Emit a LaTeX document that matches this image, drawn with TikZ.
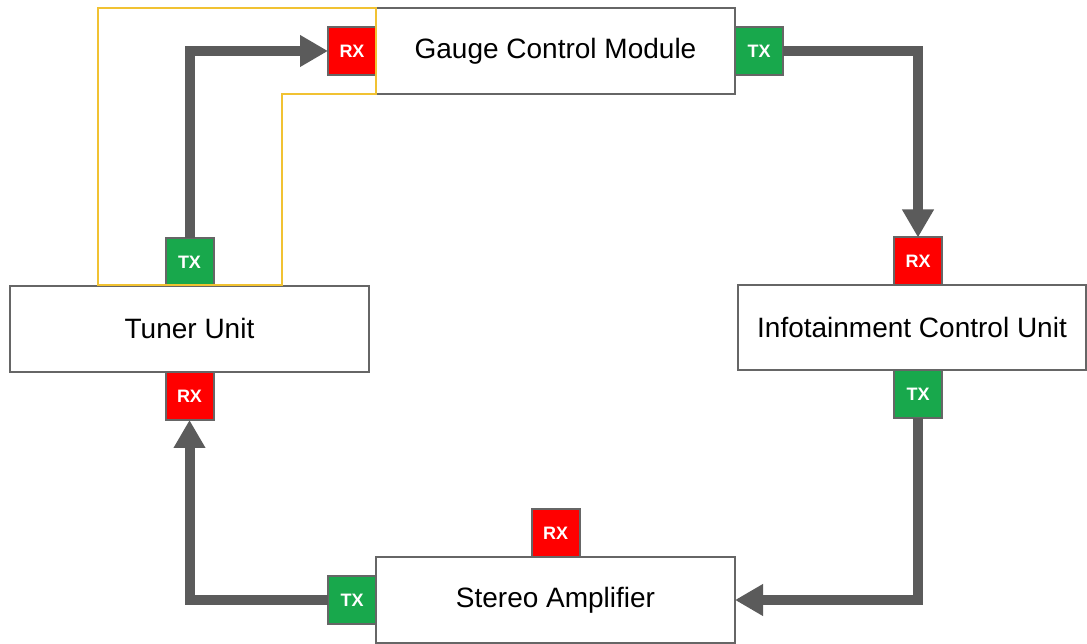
\documentclass[tikz,border=0pt]{standalone}
\usepackage{fontspec}
\setmainfont{Liberation Sans}
\usetikzlibrary{positioning,arrows.meta}
\definecolor{boxgray}{HTML}{666666}
\definecolor{linegray}{HTML}{5B5B5B}
\definecolor{rxred}{HTML}{FF0000}
\definecolor{txgreen}{HTML}{18A84C}
\definecolor{hiliteyellow}{HTML}{F1C232}
\begin{document}
\begin{tikzpicture}[x=1pt,y=1pt,
    unit/.style={draw=boxgray, line width=2pt, fill=white, outer sep=0pt,
      minimum width=359pt, minimum height=86pt, inner sep=0pt,
      font=\fontsize{28}{32}\selectfont},
    port/.style={draw=boxgray, line width=2pt, outer sep=0pt, minimum size=48pt,
      inner sep=0pt, text=white, font=\fontsize{18}{20}\selectfont\bfseries},
    rx/.style={port, fill=rxred},
    tx/.style={port, fill=txgreen},
    link/.style={draw=linegray, line width=10pt, -{Triangle[width=30pt,length=28pt]}},
    hilite/.style={draw=hiliteyellow, line width=2pt}]
  \useasboundingbox (0,0) rectangle (1087,644);
  % units
  \node[unit] (gcm) at (555.5,593) {Gauge Control Module};
  \node[unit] (tuner) at (189.5,315) {Tuner Unit};
  \node[unit, minimum width=348pt, minimum height=85pt] (icu) at (912,316) {Infotainment Control Unit};
  \node[unit] (amp) at (555.5,44) {Stereo Amplifier};
  % ports
  \node[rx, left=0pt of gcm] (gcmrx) {RX};
  \node[tx, right=0pt of gcm] (gcmtx) {TX};
  \node[tx, above=0pt of tuner] (tunertx) {TX};
  \node[rx, below=0pt of tuner] (tunerrx) {RX};
  \node[rx, above=0pt of icu, xshift=6pt] (icurx) {RX};
  \node[tx, below=0pt of icu, xshift=6pt] (icutx) {TX};
  \node[rx, above=0pt of amp] (amprx) {RX};
  \node[tx, left=0pt of amp] (amptx) {TX};
  % links
  \draw[link] (gcmtx.east) -| (icurx.north);
  \draw[link] (icutx.south) |- (amp.east);
  \draw[link] (amptx.west) -| (tunerrx.south);
  \draw[link] (tunertx.north) |- (gcmrx.west);
  % highlight
  \draw[hilite] (98,636) -- (gcm.north west) -- (gcm.south west)
    -- (282,550) -- (282,359) -- (98,359) -- cycle;
\end{tikzpicture}
\end{document}
